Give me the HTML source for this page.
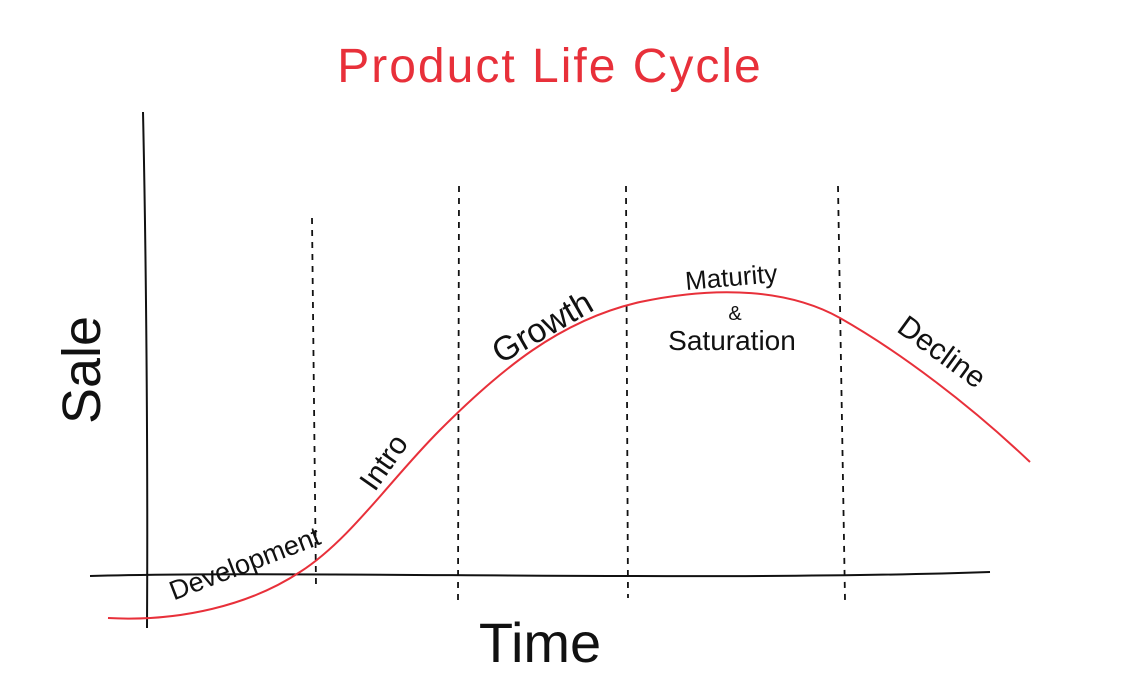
<!DOCTYPE html>
<html><head><meta charset="utf-8"><style>
html,body{margin:0;padding:0;background:#fff;}
svg{display:block}
text{font-family:"Liberation Sans",sans-serif;}
</style></head><body>
<svg width="1140" height="694" viewBox="0 0 1140 694" xmlns="http://www.w3.org/2000/svg">
<text x="550" y="82" text-anchor="middle" font-size="48" fill="#e8303a" letter-spacing="2">Product Life Cycle</text>
<path d="M143 112 C146 250 148 450 147 628" stroke="#111" stroke-width="2" fill="none"/>
<path d="M90 576 C300 570 700 582 990 572" stroke="#111" stroke-width="2" fill="none"/>
<g stroke="#111" stroke-width="1.8" stroke-dasharray="6,6" fill="none">
<line x1="312" y1="218" x2="316" y2="586"/>
<line x1="459" y1="186" x2="458" y2="600"/>
<line x1="626" y1="186" x2="628" y2="598"/>
<line x1="838" y1="186" x2="845" y2="600"/>
</g>
<path d="M108 618 C180 622 250 605 300 572 C350 540 390 480 440 430 C500 370 560 320 640 302 C720 285 790 290 840 318 C900 352 970 405 1030 462" stroke="#e8303a" stroke-width="2" fill="none"/>
<text transform="translate(100 370) rotate(-90)" text-anchor="middle" font-size="54" fill="#111">Sale</text>
<text x="540" y="662" text-anchor="middle" font-size="56" fill="#111">Time</text>
<text transform="translate(248 572) rotate(-21)" text-anchor="middle" font-size="27" fill="#111">Development</text>
<text transform="translate(392 468) rotate(-55)" text-anchor="middle" font-size="30" fill="#111">Intro</text>
<text transform="translate(548 337) rotate(-30)" text-anchor="middle" font-size="34" fill="#111">Growth</text>
<text transform="translate(732 286) rotate(-5)" text-anchor="middle" font-size="26" fill="#111">Maturity</text>
<text x="735" y="320" text-anchor="middle" font-size="20" fill="#111">&amp;</text>
<text x="732" y="350" text-anchor="middle" font-size="28" fill="#111">Saturation</text>
<text transform="translate(936 360) rotate(36)" text-anchor="middle" font-size="30" fill="#111">Decline</text>
</svg>
</body></html>
